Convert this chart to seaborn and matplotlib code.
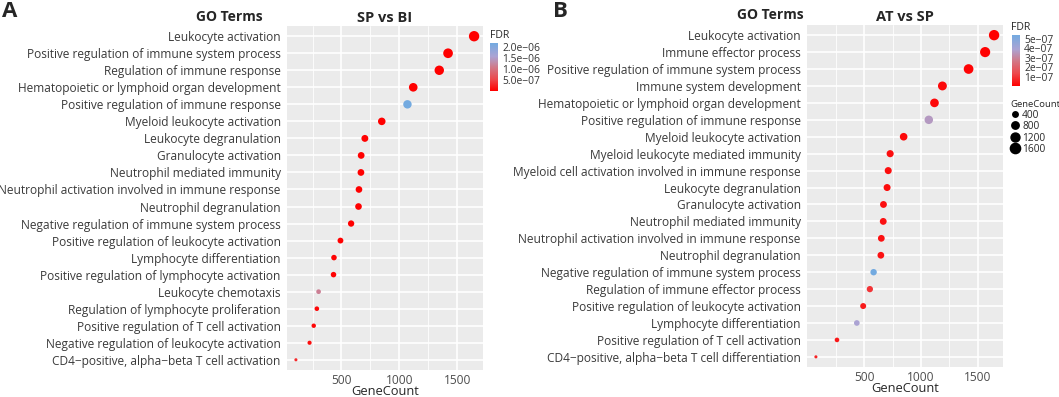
import numpy as np
import pandas as pd
import seaborn as sns
import matplotlib
matplotlib.use("Agg")
import matplotlib.pyplot as plt
from matplotlib.colors import LinearSegmentedColormap, Normalize
from matplotlib.cm import ScalarMappable
from matplotlib.ticker import FixedLocator
from matplotlib.lines import Line2D

# Panel A: SP vs BI
terms_a = ["Leukocyte activation",
           "Positive regulation of immune system process",
           "Regulation of immune response",
           "Hematopoietic or lymphoid organ development",
           "Positive regulation of immune response",
           "Myeloid leukocyte activation",
           "Leukocyte degranulation",
           "Granulocyte activation",
           "Neutrophil mediated immunity",
           "Neutrophil activation involved in immune response",
           "Neutrophil degranulation",
           "Negative regulation of immune system process",
           "Positive regulation of leukocyte activation",
           "Lymphocyte differentiation",
           "Positive regulation of lymphocyte activation",
           "Leukocyte chemotaxis",
           "Regulation of lymphocyte proliferation",
           "Positive regulation of T cell activation",
           "Negative regulation of leukocyte activation",
           "CD4\u2212positive, alpha\u2212beta T cell activation"]
count_a = [1646, 1421, 1345, 1120, 1070, 848, 702, 670, 668, 651,
           647, 583, 491, 435, 431, 302, 287, 260, 224, 106]
fdr_a = [2.1e-12, 5.3e-11, 1.4e-10, 3.2e-10, 2.18e-06, 8.5e-11, 4.1e-11, 6.2e-11, 7.7e-11, 9.4e-11,
         1.1e-10, 2.6e-09, 8.8e-09, 1.9e-08, 2.4e-08, 1.15e-06, 6.1e-08, 4.3e-08, 9.7e-08, 3.1e-07]

# Panel B: AT vs SP
terms_b = ["Leukocyte activation",
           "Immune effector process",
           "Positive regulation of immune system process",
           "Immune system development",
           "Hematopoietic or lymphoid organ development",
           "Positive regulation of immune response",
           "Myeloid leukocyte activation",
           "Myeloid leukocyte mediated immunity",
           "Myeloid cell activation involved in immune response",
           "Leukocyte degranulation",
           "Granulocyte activation",
           "Neutrophil mediated immunity",
           "Neutrophil activation involved in immune response",
           "Neutrophil degranulation",
           "Negative regulation of immune system process",
           "Regulation of immune effector process",
           "Positive regulation of leukocyte activation",
           "Lymphocyte differentiation",
           "Positive regulation of T cell activation",
           "CD4\u2212positive, alpha\u2212beta T cell differentiation"]
count_b = [1646, 1567, 1421, 1190, 1120, 1070, 848, 729, 712, 702,
           670, 668, 651, 647, 583, 550, 491, 435, 260, 74]
fdr_b = [1.2e-09, 3.5e-09, 8.1e-09, 2.2e-08, 1.6e-08, 3.6e-07, 1.9e-08, 2.7e-08, 2.5e-08, 2.3e-08,
         2.9e-08, 3.3e-08, 3.1e-08, 3.4e-08, 5.4e-07, 9.6e-08, 4.8e-08, 3.9e-07, 4.4e-08, 6.5e-08]

df_a = pd.DataFrame({"term": terms_a, "GeneCount": count_a, "FDR": fdr_a})
df_b = pd.DataFrame({"term": terms_b, "GeneCount": count_b, "FDR": fdr_b})

sns.set_style("white")
plt.rcParams["font.family"] = ["Open Sans", "DejaVu Sans"]

# red -> light blue, roughly like ggplot's Lab gradient
cmap = LinearSegmentedColormap.from_list(
    "fdr", [(0.0, "#FF0000"), (0.25, "#EC4A4E"), (0.5, "#D07A8A"),
            (0.72, "#ABA3D3"), (1.0, "#73AAE0")])

fig = plt.figure(figsize=(10.59, 3.97), dpi=100)
W, H = 1059, 397
SMIN, SMAX = 5, 56


def panel(df, rect, title, cbar_rect, cbar_ticks, cbar_fmt):
    ax = fig.add_axes(rect)
    vmin, vmax = df["FDR"].min(), df["FDR"].max()
    cmin, cmax = df["GeneCount"].min(), df["GeneCount"].max()
    sns.scatterplot(data=df, x="GeneCount", y="term", hue="FDR", size="GeneCount",
                    palette=cmap, hue_norm=(vmin, vmax), sizes=(SMIN, SMAX),
                    size_norm=(cmin, cmax), linewidth=0, legend=False, ax=ax, zorder=3)
    n = len(df)
    ax.set_ylim(n - 0.4, -0.6)
    pad = (cmax - cmin) * 0.05
    ax.set_xlim(cmin - pad, cmax + pad)
    ax.set_facecolor("#EBEBEB")
    for s in ax.spines.values():
        s.set_visible(False)
    ax.xaxis.set_major_locator(FixedLocator([500, 1000, 1500]))
    ax.xaxis.set_minor_locator(FixedLocator([250, 750, 1250]))
    ax.set_axisbelow(True)
    ax.grid(which="major", color="white", lw=1.2)
    ax.grid(which="minor", axis="x", color="white", lw=0.6)
    ax.tick_params(axis="y", length=2.5, width=1.0, color="#333333", pad=2,
                   labelsize=8.6, labelcolor="#3A3A3A")
    ax.tick_params(axis="x", length=2.5, width=1.0, color="#333333", pad=0.5,
                   labelsize=8.6, labelcolor="#4D4D4D")
    ax.tick_params(which="minor", length=0)
    ax.set_ylabel("")
    ax.set_xlabel("GeneCount", fontsize=9.3, labelpad=-1.5)
    ax.set_title(title, fontweight="bold", fontsize=10.5, pad=3)

    cax = fig.add_axes(cbar_rect)
    sm = ScalarMappable(norm=Normalize(vmin, vmax), cmap=cmap)
    cb = fig.colorbar(sm, cax=cax, ticks=cbar_ticks)
    cb.outline.set_visible(False)
    cb.ax.set_yticklabels([cbar_fmt(t) for t in cbar_ticks])
    cb.ax.tick_params(length=2, color="white", labelsize=7.4, pad=1, labelcolor="#333333")
    return ax


ax1 = panel(df_a, [287 / W, 1 - 370 / H, 196 / W, 344 / H], "SP vs BI",
            [490 / W, 1 - 91 / H, 8 / W, 48 / H],
            [5e-07, 1e-06, 1.5e-06, 2e-06],
            lambda t: f"{t:.1e}".replace("-", "\u2212"))
ax2 = panel(df_b, [807 / W, 1 - 367 / H, 196 / W, 342 / H], "AT vs SP",
            [1012 / W, 1 - 86 / H, 8 / W, 51 / H],
            [1e-07, 2e-07, 3e-07, 4e-07, 5e-07],
            lambda t: f"{t:.0e}".replace("-", "\u2212"))

fig.text(490 / W, 1 - 35 / H, "FDR", fontsize=7.6, va="center", ha="left")
fig.text(1011 / W, 1 - 27 / H, "FDR", fontsize=7.6, va="center", ha="left")

# size legend for panel B
cmin, cmax = min(count_b), max(count_b)
handles = []
for v in [400, 800, 1200, 1600]:
    s = SMIN + (v - cmin) / (cmax - cmin) * (SMAX - SMIN)
    handles.append(Line2D([], [], ls="", marker="o", color="black", markersize=np.sqrt(s),
                          label=str(v)))
leg = fig.legend(handles=handles, title="GeneCount", loc="upper left",
                 bbox_to_anchor=(1010 / W, 1 - 100 / H), frameon=False, fontsize=7.3,
                 title_fontsize=6.8, labelspacing=0.05, handletextpad=0.2,
                 handlelength=1.0, borderpad=0, borderaxespad=0)
leg._legend_box.align = "left"

fig.text(229 / W, 1 - 17 / H, "GO Terms", fontweight="bold", fontsize=10, ha="center", va="center")
fig.text(770 / W, 1 - 15 / H, "GO Terms", fontweight="bold", fontsize=10, ha="center", va="center")
fig.text(2 / W, 1 - 1 / H, "A", fontweight="bold", fontsize=16, ha="left", va="top")
fig.text(553 / W, 1 - 1 / H, "B", fontweight="bold", fontsize=16, ha="left", va="top")

fig.savefig("out.png", dpi=100)
